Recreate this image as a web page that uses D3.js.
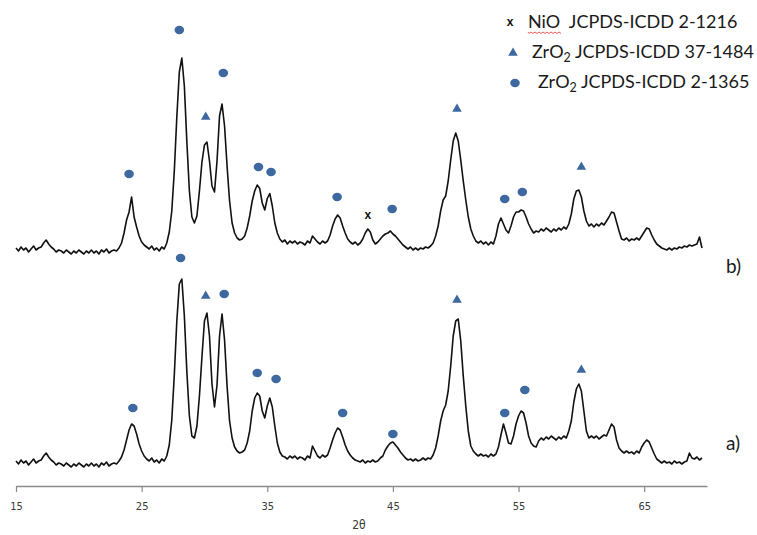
<!DOCTYPE html>
<html>
<head>
<meta charset="utf-8">
<script src="https://cdn.jsdelivr.net/npm/d3@7/dist/d3.min.js"></script>
<style>
  body { margin: 0; background: #fff; }
  svg { display: block; }
</style>
</head>
<body>
<svg id="chart" width="757" height="535"></svg>
<script>
// Diffraction scans, 2θ from 15° in 0.2° steps (intensity in counts)
const thetaStart = 15;
const thetaStep = 0.2;

// a) lower scan
const intensityA = [
  50,44,52,46,50,42,48,54,46,50,
  52,60,66,58,52,48,42,46,44,40,
  46,42,38,44,40,46,42,38,44,40,
  46,40,44,38,46,42,48,40,44,46,
  44,50,58,72,92,112,124,120,104,84,
  70,60,54,50,56,48,52,46,54,50,
  60,82,132,222,330,404,414,340,228,140,
  100,96,120,180,258,330,346,300,204,158,
  202,300,344,292,200,130,96,78,70,66,
  68,72,86,110,150,176,186,180,150,136,
  160,176,158,120,86,68,60,58,54,60,
  56,60,54,58,56,52,60,56,80,70,
  60,56,62,58,62,76,92,106,116,112,
  98,82,70,62,56,52,50,48,52,46,
  50,48,52,48,50,56,60,72,80,86,
  88,82,76,68,62,56,52,54,50,54,
  50,52,56,52,56,54,62,76,100,130,
  150,162,190,240,300,330,334,290,220,160,
  110,80,70,64,60,64,60,62,58,64,
  60,64,78,102,124,106,86,84,100,124,
  140,150,146,126,100,86,80,78,90,96,
  92,98,94,100,96,92,98,94,100,96,
  110,130,168,194,204,190,150,110,96,100,
  96,100,94,98,102,100,112,124,118,92,
  76,70,66,70,66,68,64,70,66,78,
  86,92,88,76,64,54,50,46,50,46,
  48,44,50,46,48,44,48,50,66,56,
  54,58,52,56
];

// b) upper scan (drawn shifted up by offsetB)
const intensityB = [
  56,50,58,52,56,48,54,60,52,56,
  58,66,72,64,58,54,48,52,50,46,
  52,48,44,50,46,52,48,44,50,46,
  52,46,50,44,52,48,54,46,50,52,
  50,56,66,86,112,128,158,118,98,80,
  68,62,58,54,60,52,56,50,58,54,
  66,88,130,210,318,408,436,380,268,170,
  118,106,120,170,228,262,268,230,180,168,
  230,320,344,300,220,150,106,86,76,72,
  74,80,96,120,150,170,182,175,146,132,
  155,165,140,106,86,74,68,72,64,70,
  66,70,64,68,66,62,70,66,80,74,
  68,64,70,66,70,82,100,114,122,116,
  100,86,74,68,64,68,62,66,74,86,
  94,88,72,64,68,74,80,84,86,90,
  84,80,74,68,62,58,54,58,52,56,
  52,56,54,58,56,60,66,80,100,130,
  152,160,190,232,270,286,270,232,190,152,
  118,94,80,70,66,70,64,68,62,68,
  64,80,104,116,104,92,86,100,118,128,
  128,132,130,118,104,94,86,90,88,94,
  90,96,92,88,94,90,96,92,98,94,
  104,124,154,170,172,158,130,110,100,104,
  98,104,100,106,102,110,118,128,126,108,
  90,74,72,76,70,74,72,76,72,80,
  88,96,94,82,72,64,60,56,54,52,
  56,52,56,54,58,56,60,58,62,60,
  62,64,78,56
];
const offsetB = 420;

const xTicks = [15, 25, 35, 45, 55, 65];

// Phase assignments: c = ZrO2 2-1365, t = ZrO2 37-1484, x = NiO 2-1216
const peakPos = {
  a: [24.3, 28.1, 30.1, 31.57, 34.2, 35.7, 41.0, 45.0, 50.1, 53.9, 55.5, 60.0],
  b: [24.0, 28.0, 30.1, 31.5, 34.3, 35.3, 40.56, 43.0, 44.94, 50.1, 53.9, 55.3, 60.0]
};
const peakLevel = {
  a: [156, 456, 380, 384, 226, 214, 146, 104, 372, 146, 192, 232],
  b: [204, 492, 318, 406, 218, 208, 158, 122, 134, 334, 154, 168, 218]
};
const peakPhase = {
  a: ["c","c","t","c","c","c","c","c","t","c","c","t"],
  b: ["c","c","t","c","c","c","c","x","c","t","c","c","t"]
};

const legendPhases = ["x", "t", "c"];
const legendLabels = [
  ["NiO  JCPDS-ICDD 2-1216"],
  ["ZrO", "2", " JCPDS-ICDD 37-1484"],
  ["ZrO", "2", " JCPDS-ICDD 2-1365"]
];
const sampleLabels = ["a)", "b)"];

const blue = "#3d69a0";
const svg = d3.select("#chart");

const x = d3.scaleLinear().domain([15, 70]).range([16, 707]);
const y = d3.scaleLinear().domain([0, 920]).range([486, 26]);

// x axis
const axis = svg.append("g")
  .attr("transform", `translate(0,${y(0)})`)
  .call(d3.axisBottom(x).tickValues(xTicks).tickSize(6).tickSizeOuter(0).tickPadding(10));
axis.select(".domain").attr("stroke", "#8a8a8a").attr("stroke-width", 1.3);
axis.selectAll(".tick line").attr("stroke", "#8a8a8a").attr("stroke-width", 1.2);
axis.selectAll(".tick text")
  .attr("fill", "#3a3a3a")
  .style("font-family", "'DejaVu Sans Condensed', 'Liberation Sans', Arial, sans-serif")
  .style("font-size", "11px");

svg.append("text")
  .attr("x", x(42.3)).attr("y", 529)
  .attr("text-anchor", "middle")
  .style("font-family", "'DejaVu Sans Condensed', 'Liberation Sans', Arial, sans-serif")
  .style("font-size", "12px").attr("fill", "#3a3a3a")
  .text("2θ");

// scans
const line = off => d3.line()
  .x((d, i) => x(thetaStart + i * thetaStep))
  .y(d => y(d + off));

[[intensityA, 0], [intensityB, offsetB]].forEach(([data, off]) => {
  svg.append("path")
    .datum(data)
    .attr("fill", "none")
    .attr("stroke", "#111")
    .attr("stroke-width", 1.6)
    .attr("stroke-linejoin", "round")
    .attr("d", line(off));
});

// phase markers
const tri = d3.symbol().type(d3.symbolTriangle).size(40)();
function drawMarker(g, kind, cx, cy) {
  if (kind === "c") {
    g.append("ellipse").attr("cx", cx).attr("cy", cy).attr("rx", 4.8).attr("ry", 4.2).attr("fill", blue);
  } else if (kind === "t") {
    g.append("path").attr("d", tri).attr("transform", `translate(${cx},${cy})`).attr("fill", blue);
  } else {
    g.append("text").attr("x", cx).attr("y", cy + 4)
      .attr("text-anchor", "middle")
      .style("font-family", "'Liberation Sans', Arial, sans-serif")
      .style("font-size", "12px").style("font-weight", "bold")
      .attr("fill", "#111").text("x");
  }
}
const markers = svg.append("g");
[["a", 0], ["b", offsetB]].forEach(([k, off]) => {
  peakPos[k].forEach((t, i) => drawMarker(markers, peakPhase[k][i], x(t), y(peakLevel[k][i] + off)));
});

// legend
const legend = svg.append("g");
const legendFont = "Lato, 'Open Sans', sans-serif";
const rowY = [28, 58, 88];
const symX = [510, 513, 515];
const textX = [528, 532, 538];
legendPhases.forEach((ph, i) => {
  drawMarker(legend, ph, symX[i], rowY[i] - 5 + (ph === "x" ? -1 : 0));
  const t = legend.append("text")
    .attr("x", textX[i]).attr("y", rowY[i])
    .style("font-family", legendFont).style("font-size", "18px")
    .style("white-space", "pre")
    .attr("fill", "#1a1a1a");
  legendLabels[i].forEach((part, j) => {
    const sp = t.append("tspan").text(part);
    if (j === 1) sp.attr("dy", 4).style("font-size", "12.5px");
    if (j === 2) sp.attr("dy", -4);
  });
  if (i === 0) {
    // spell-check squiggle under "NiO"
    const w = 34;
    const p = d3.path();
    p.moveTo(textX[i], rowY[i] + 4);
    for (let k = 0; k * 2 < w; k++) p.lineTo(textX[i] + k * 2 + 1, rowY[i] + 4 + (k % 2 ? 0 : 1.5));
    legend.append("path").attr("d", p.toString()).attr("fill", "none").attr("stroke", "#e03030").attr("stroke-width", 0.8);
  }
});

// sample labels
const sampleY = [y(48) - 12, y(54 + offsetB) + 24];
sampleLabels.forEach((s, i) => {
  svg.append("text")
    .attr("x", 726).attr("y", sampleY[i])
    .style("font-family", legendFont).style("font-size", "19px")
    .attr("fill", "#1a1a1a").text(s);
});
</script>
</body>
</html>
